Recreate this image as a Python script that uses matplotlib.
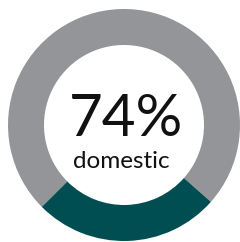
import matplotlib
matplotlib.use("Agg")
import matplotlib.pyplot as plt

labels = ["domestic", "other"]
values = [74, 26]
colors = ["#939598", "#004d52"]
big_label = "74%"
sub_label = "domestic"

W, H = 240, 242
fig = plt.figure(figsize=(W / 100, H / 100), dpi=100)
ax = fig.add_axes([0, 0, 1, 1])

cx, cy = 124, H - 125
ax.pie(values, colors=colors, startangle=-41.5, counterclock=True,
       radius=116, center=(cx, cy),
       wedgeprops=dict(width=36, linewidth=0), frame=True)
ax.set_xlim(0, W)
ax.set_ylim(0, H)
ax.set_aspect("equal")
ax.axis("off")

ax.text(126, H - 136, big_label, ha="center", va="baseline",
        fontsize=42, family="Lato", color="#111111")
ax.text(121.5, H - 168, sub_label, ha="center", va="baseline",
        fontsize=17.5, family="Lato", color="#111111")

fig.savefig("out.png", dpi=100)
